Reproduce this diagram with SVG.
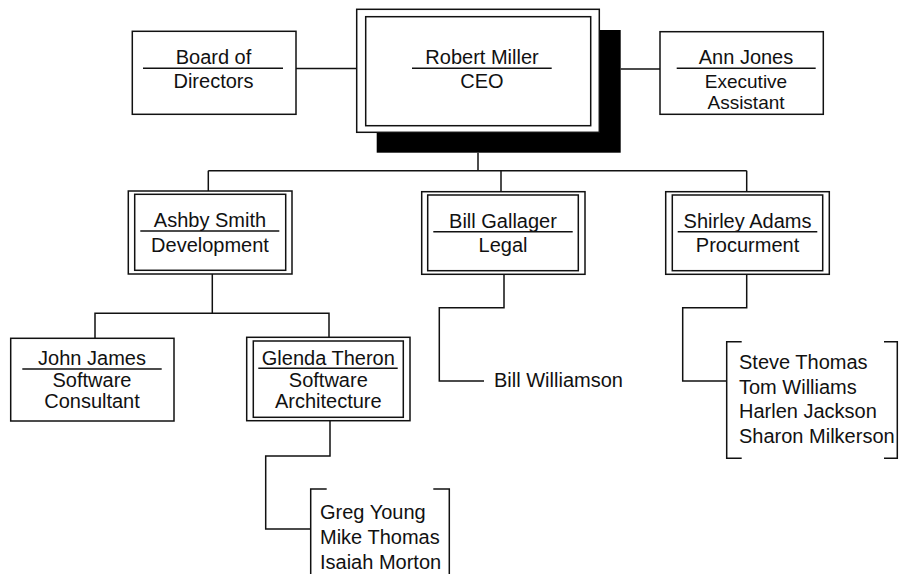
<svg xmlns="http://www.w3.org/2000/svg" width="899" height="574" viewBox="0 0 899 574">
<style>
.bx{fill:#fff;stroke:#111;stroke-width:1.5}
.ln{fill:none;stroke:#111;stroke-width:1.5}
.t{font-family:"Liberation Sans",Arial,sans-serif;font-size:20px;fill:#111;text-anchor:middle}
.s{font-size:19px}
.l{text-anchor:start}
</style>
<rect width="899" height="574" fill="#fff"/>
<g id="connectors" class="ln">
<path d="M296,68.5H357"/>
<path d="M620.7,69H660"/>
<path d="M478,152.7V170.7"/>
<path d="M208.3,170.7H746.7"/>
<path d="M208.3,170.7V191"/>
<path d="M501,170.7V191.7"/>
<path d="M746.7,170.7V191.7"/>
<path d="M212.3,274V313.3"/>
<path d="M95,338.3V313.3H329V337.3"/>
<path d="M504,274.3V307.7H439.3V381H484"/>
<path d="M746.7,274.3V307.7H682.7V381H726.7"/>
<path d="M330,420.7V456H265.7V529H310.7"/>
</g>
<g id="board">
<rect class="bx" x="132.3" y="31.3" width="163.7" height="83"/>
<path class="ln" d="M143,68.3H283"/>
<text class="t" x="213.5" y="64">Board of</text>
<text class="t" x="213.5" y="88.3">Directors</text>
</g>
<g id="ceo">
<rect x="376.7" y="30" width="244" height="122.7" fill="#000"/>
<rect class="bx" x="356.7" y="9.3" width="242.6" height="123"/>
<rect class="bx" x="365.7" y="16.7" width="225" height="109"/>
<path class="ln" d="M412,68.3H551.7"/>
<text class="t" x="482" y="64">Robert Miller</text>
<text class="t" x="482" y="88.3">CEO</text>
</g>
<g id="ann">
<rect class="bx" x="660" y="31.7" width="163.3" height="82.6"/>
<path class="ln" d="M676.7,68.3H815.7"/>
<text class="t" x="746" y="64">Ann Jones</text>
<text class="t s" x="746" y="87.5">Executive</text>
<text class="t s" x="746" y="108.5">Assistant</text>
</g>
<g id="ashby">
<rect class="bx" x="128.3" y="191" width="163.7" height="83"/>
<rect class="bx" x="134.7" y="194.3" width="151" height="76"/>
<path class="ln" d="M140.3,231H279.3"/>
<text class="t" x="210" y="227">Ashby Smith</text>
<text class="t" x="210" y="251.7">Development</text>
</g>
<g id="bill">
<rect class="bx" x="421.7" y="191.7" width="163.3" height="82.6"/>
<rect class="bx" x="427.7" y="195" width="150.6" height="75.7"/>
<path class="ln" d="M433.3,231.7H572.7"/>
<text class="t" x="503" y="227.5">Bill Gallager</text>
<text class="t" x="503" y="251.7">Legal</text>
</g>
<g id="shirley">
<rect class="bx" x="665.7" y="191.7" width="163.6" height="82.6"/>
<rect class="bx" x="672.3" y="195" width="150.4" height="75.7"/>
<path class="ln" d="M677.7,231.7H817.3"/>
<text class="t" x="747.5" y="227.5">Shirley Adams</text>
<text class="t" x="747.5" y="251.7">Procurment</text>
</g>
<g id="john">
<rect class="bx" x="10.7" y="338.3" width="163.3" height="82.7"/>
<path class="ln" d="M22.3,369H161.7"/>
<text class="t" x="92" y="365">John James</text>
<text class="t" x="92" y="387.3">Software</text>
<text class="t" x="92" y="408.3">Consultant</text>
</g>
<g id="glenda">
<rect class="bx" x="246.7" y="337.3" width="163.3" height="83.4"/>
<rect class="bx" x="253.3" y="341" width="150" height="76.3"/>
<path class="ln" d="M258.3,368.3H397.7"/>
<text class="t" x="328.3" y="365">Glenda Theron</text>
<text class="t" x="328.3" y="387.3">Software</text>
<text class="t" x="328.3" y="408.3">Architecture</text>
</g>
<g id="williamson">
<text class="t l" x="494" y="386.5">Bill Williamson</text>
</g>
<g id="procurement-staff">
<path class="ln" d="M741.7,341.7H726.7V458.3H741.7"/>
<path class="ln" d="M884,341.7H897.3V458.3H884"/>
<text class="t l" x="739" y="369">Steve Thomas</text>
<text class="t l" x="739" y="393.5">Tom Williams</text>
<text class="t l" x="739" y="418">Harlen Jackson</text>
<text class="t l" x="739" y="442.5">Sharon Milkerson</text>
</g>
<g id="architecture-staff">
<path class="ln" d="M326.7,489H310.7V576"/>
<path class="ln" d="M433.3,489H449.3V576"/>
<text class="t l" x="320" y="518.5">Greg Young</text>
<text class="t l" x="320" y="543.5">Mike Thomas</text>
<text class="t l" x="320" y="568.5">Isaiah Morton</text>
</g>
</svg>
